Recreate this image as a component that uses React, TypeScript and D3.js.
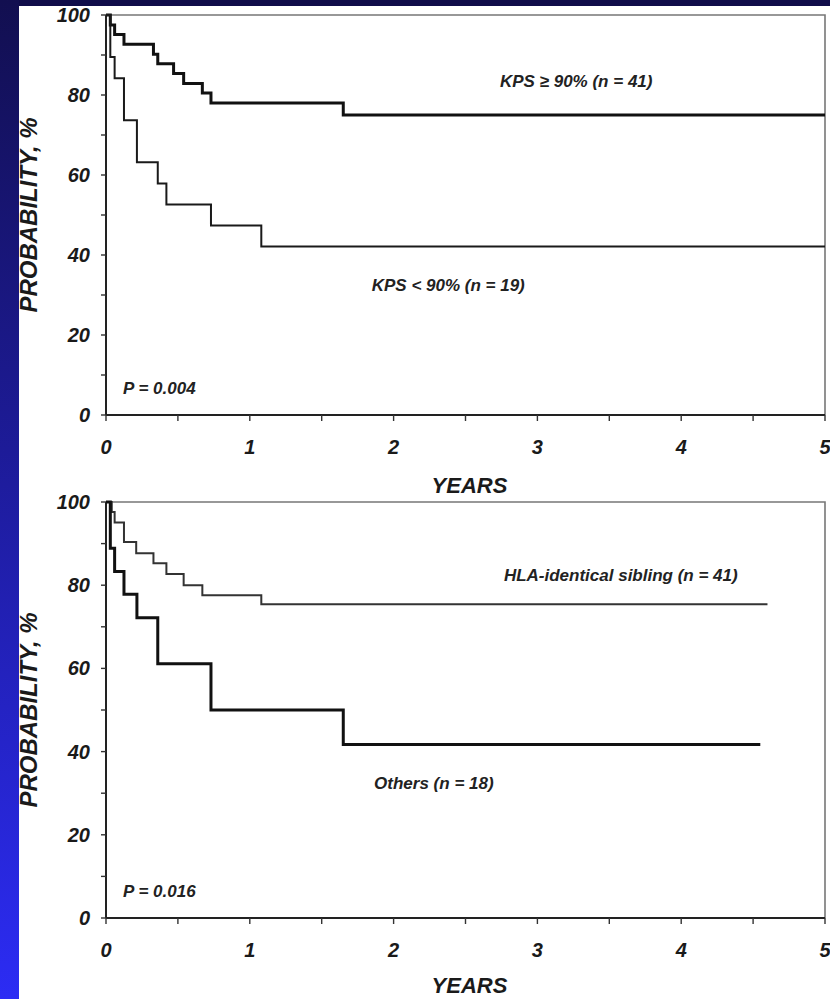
import React, { useEffect, useRef } from "react";
import * as d3 from "d3";

// Kaplan-Meier curves (years, probability %)
const kpsHighYears = [0, 0.03, 0.06, 0.125, 0.33, 0.36, 0.47, 0.54, 0.67, 0.73, 1.65, 5];
const kpsHighProb = [100, 97.5, 95.1, 92.7, 90.2, 87.8, 85.4, 82.9, 80.5, 78.0, 75.0, 75.0];

const kpsLowYears = [0, 0.03, 0.06, 0.125, 0.215, 0.36, 0.42, 0.73, 1.08, 5];
const kpsLowProb = [100, 89.5, 84.2, 73.7, 63.2, 57.9, 52.6, 47.4, 42.1, 42.1];

const hlaYears = [0, 0.04, 0.06, 0.125, 0.21, 0.33, 0.42, 0.54, 0.67, 1.08, 4.6];
const hlaProb = [100, 97.6, 95.1, 90.4, 87.7, 85.3, 82.7, 80.0, 77.6, 75.4, 75.4];

const othersYears = [0, 0.03, 0.06, 0.125, 0.215, 0.36, 0.73, 1.65, 4.55];
const othersProb = [100, 88.9, 83.3, 77.8, 72.2, 61.1, 50.0, 41.7, 41.7];

const xTickLabels = [0, 1, 2, 3, 4, 5];
const xMinorTicks = [0.5, 1.5, 2.5, 3.5, 4.5];
const yTickLabels = [0, 20, 40, 60, 80, 100];
const yMinorTicks = [10, 30, 50, 70, 90];

const panels = [
  {
    top: 15,
    bottom: 415,
    yearsOffset: 78,
    pValue: "P = 0.004",
    curves: [
      { years: kpsHighYears, prob: kpsHighProb, width: 3, color: "#111" },
      { years: kpsLowYears, prob: kpsLowProb, width: 2, color: "#1a1a1a" },
    ],
    labels: [
      { text: "KPS \u2265 90% (n = 41)", year: 3.27, prob: 82 },
      { text: "KPS < 90% (n = 19)", year: 2.38, prob: 31 },
    ],
  },
  {
    top: 502,
    bottom: 918,
    yearsOffset: 75,
    pValue: "P = 0.016",
    curves: [
      { years: hlaYears, prob: hlaProb, width: 2, color: "#333" },
      { years: othersYears, prob: othersProb, width: 3, color: "#111" },
    ],
    labels: [
      { text: "HLA-identical sibling (n = 41)", year: 3.58, prob: 81 },
      { text: "Others (n = 18)", year: 2.28, prob: 31 },
    ],
  },
];

const W = 830;
const H = 999;
const FONT = "'Liberation Sans', Arial, Helvetica, sans-serif";

const App = () => {
  const svgRef = useRef(null);

  useEffect(() => {
    const svg = d3.select(svgRef.current);
    svg.selectAll("*").remove();

    // background: navy band on top, blue gradient strip on the left
    const defs = svg.append("defs");
    const grad = defs.append("linearGradient")
      .attr("id", "leftStrip")
      .attr("x1", 0).attr("y1", 0).attr("x2", 0).attr("y2", 1);
    grad.append("stop").attr("offset", "0%").attr("stop-color", "#120f50");
    grad.append("stop").attr("offset", "45%").attr("stop-color", "#1d1b98");
    grad.append("stop").attr("offset", "100%").attr("stop-color", "#2c2cf4");

    svg.append("rect").attr("width", W).attr("height", H).attr("fill", "#100d4a");
    svg.append("rect").attr("x", 0).attr("y", 0).attr("width", 19).attr("height", H)
      .attr("fill", "url(#leftStrip)");
    svg.append("rect").attr("x", 19).attr("y", 6).attr("width", W - 19).attr("height", H - 6)
      .attr("fill", "#ffffff");

    const x = d3.scaleLinear().domain([0, 5]).range([106, 825]);

    panels.forEach((p) => {
      const y = d3.scaleLinear().domain([0, 100]).range([p.bottom, p.top]);
      const g = svg.append("g");

      // frame on top and right
      g.append("path")
        .attr("d", `M${x(0)},${y(100)}H${x(5)}V${y(0)}`)
        .attr("fill", "none")
        .attr("stroke", "#777")
        .attr("stroke-width", 1.6);

      // axes
      g.append("line")
        .attr("x1", x(0)).attr("x2", x(5)).attr("y1", y(0)).attr("y2", y(0))
        .attr("stroke", "#222").attr("stroke-width", 2);
      g.append("line")
        .attr("x1", x(0)).attr("x2", x(0)).attr("y1", y(0)).attr("y2", y(100))
        .attr("stroke", "#222").attr("stroke-width", 2);

      g.selectAll(".xt")
        .data([...xTickLabels, ...xMinorTicks])
        .join("line")
        .attr("x1", (d) => x(d)).attr("x2", (d) => x(d))
        .attr("y1", y(0)).attr("y2", y(0) + 6)
        .attr("stroke", "#333").attr("stroke-width", 1.4);

      g.selectAll(".yt")
        .data([...yTickLabels, ...yMinorTicks])
        .join("line")
        .attr("x1", x(0) - 5).attr("x2", x(0))
        .attr("y1", (d) => y(d)).attr("y2", (d) => y(d))
        .attr("stroke", "#333").attr("stroke-width", 1.4);

      const tickText = g.append("g")
        .attr("font-family", FONT)
        .attr("font-weight", "bold")
        .attr("font-style", "italic")
        .attr("font-size", 20)
        .attr("fill", "#1a1a1a");

      tickText.selectAll(".xl")
        .data(xTickLabels)
        .join("text")
        .attr("x", (d) => x(d))
        .attr("y", y(0) + 39)
        .attr("text-anchor", "middle")
        .text((d) => d);

      tickText.selectAll(".yl")
        .data(yTickLabels)
        .join("text")
        .attr("x", 90)
        .attr("y", (d) => y(d) + 7)
        .attr("text-anchor", "end")
        .text((d) => d);

      // axis titles
      g.append("text")
        .attr("x", (x(0) + x(5)) / 2 + 4)
        .attr("y", y(0) + p.yearsOffset)
        .attr("text-anchor", "middle")
        .attr("font-family", FONT)
        .attr("font-weight", "bold")
        .attr("font-style", "italic")
        .attr("font-size", 22)
        .attr("fill", "#1a1a1a")
        .text("YEARS");

      g.append("text")
        .attr("transform", `translate(37,${(y(0) + y(100)) / 2}) rotate(-90)`)
        .attr("text-anchor", "middle")
        .attr("font-family", FONT)
        .attr("font-weight", "bold")
        .attr("font-style", "italic")
        .attr("font-size", 24)
        .attr("fill", "#1a1a1a")
        .text("PROBABILITY, %");

      // survival curves
      const line = d3.line()
        .x((d) => x(d[0]))
        .y((d) => y(d[1]))
        .curve(d3.curveStepAfter);

      p.curves.forEach((c) => {
        g.append("path")
          .datum(d3.zip(c.years, c.prob))
          .attr("d", line)
          .attr("fill", "none")
          .attr("stroke", c.color)
          .attr("stroke-width", c.width);
      });

      // curve labels and p value
      const lab = g.append("g")
        .attr("font-family", FONT)
        .attr("font-weight", "bold")
        .attr("font-style", "italic")
        .attr("font-size", 17)
        .attr("fill", "#222");

      p.labels.forEach((l) => {
        lab.append("text")
          .attr("x", x(l.year))
          .attr("y", y(l.prob))
          .attr("text-anchor", "middle")
          .text(l.text);
      });

      lab.append("text")
        .attr("x", 123)
        .attr("y", y(0) - 21)
        .text(p.pValue);
    });
  }, []);

  return (
    <svg
      ref={svgRef}
      width={W}
      height={H}
      style={{ position: "absolute", left: 0, top: 0, display: "block" }}
    ></svg>
  );
};

export default App;
